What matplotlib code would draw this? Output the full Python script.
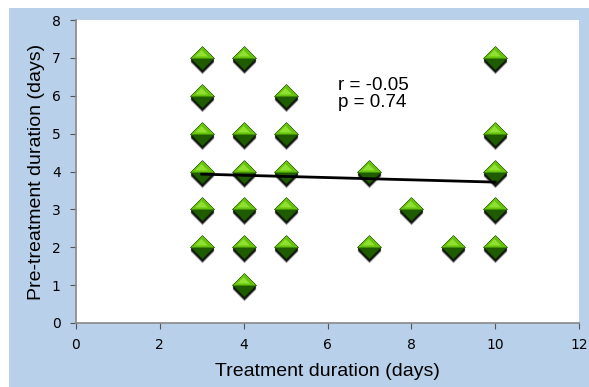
import numpy as np
import matplotlib
matplotlib.use("Agg")
import matplotlib.pyplot as plt
from matplotlib.transforms import offset_copy
from matplotlib.patches import Rectangle

# 1. Data
treat_x = [3, 3, 3, 3, 3, 3,
           4, 4, 4, 4, 4, 4,
           5, 5, 5, 5, 5,
           7, 7, 8, 9,
           10, 10, 10, 10, 10]
pre_y = [2, 3, 4, 5, 6, 7,
         1, 2, 3, 4, 5, 7,
         2, 3, 4, 5, 6,
         2, 4, 3, 2,
         2, 3, 4, 5, 7]

fit_x = [3, 10]
fit_y = [3.93, 3.72]

stats_text = "r = -0.05\np = 0.74"

# 2. Figure
fig = plt.figure(figsize=(5.89, 3.87), dpi=100)
fig.patches.append(Rectangle((9 / 589, 0), 1 - 9 / 589, (387 - 8) / 387,
                             transform=fig.transFigure, facecolor="#b9d0ea",
                             edgecolor="none", zorder=-10))
ax = fig.add_axes([76 / 589, (387 - 323) / 387, (579 - 76) / 589, (323 - 20) / 387])
ax.set_facecolor("white")

diamond = [(0, 1), (1, 0), (0, -1), (-1, 0), (0, 1)]
top_half = [(-1, 0), (0, 1), (1, 0), (-1, 0)]
ms = 17

# soft black shadow under each diamond
for dy, a in [(-4, 0.35), (-3, 0.6), (-2, 0.8)]:
    sh = offset_copy(ax.transData, fig=fig, x=0, y=dy, units="dots")
    ax.plot(treat_x, pre_y, linestyle="none", marker=diamond, ms=ms,
            color="black", mec="none", transform=sh, zorder=2, alpha=a)
ax.plot(treat_x, pre_y, linestyle="none", marker=diamond, ms=ms,
        color="#1f5c00", mec="#0f2e00", mew=0.6, zorder=3)
ax.plot(treat_x, pre_y, linestyle="none", marker=top_half, ms=ms,
        color="#66c20a", mec="none", zorder=4)
hl = offset_copy(ax.transData, fig=fig, x=-1, y=2, units="dots")
ax.plot(treat_x, pre_y, linestyle="none", marker=top_half, ms=ms * 0.55,
        color="#8fe030", mec="none", transform=hl, zorder=4)

ax.plot(fit_x, fit_y, color="black", lw=2, zorder=5)

ax.text(6.25, 6.05, stats_text, fontsize=13.5, family="Liberation Sans",
        va="center", ha="left", linespacing=1.05)

ax.set_xlim(0, 12)
ax.set_ylim(0, 8)
ax.set_xticks(np.arange(0, 13, 2))
ax.set_yticks(np.arange(0, 9, 1))
for s in ["top", "right"]:
    ax.spines[s].set_visible(False)
for s in ["left", "bottom"]:
    ax.spines[s].set_color("#888888")
    ax.spines[s].set_linewidth(1.2)
ax.tick_params(direction="out", length=4, color="#555555", labelsize=10)
ax.tick_params(axis="x", pad=7)
ax.tick_params(axis="y", pad=7)

ax.set_xlabel("Treatment duration (days)", fontsize=14, family="Liberation Sans", labelpad=8)
ax.set_ylabel("Pre-treatment duration (days)", fontsize=14, family="Liberation Sans", labelpad=5)

fig.savefig("out.png", dpi=100)
